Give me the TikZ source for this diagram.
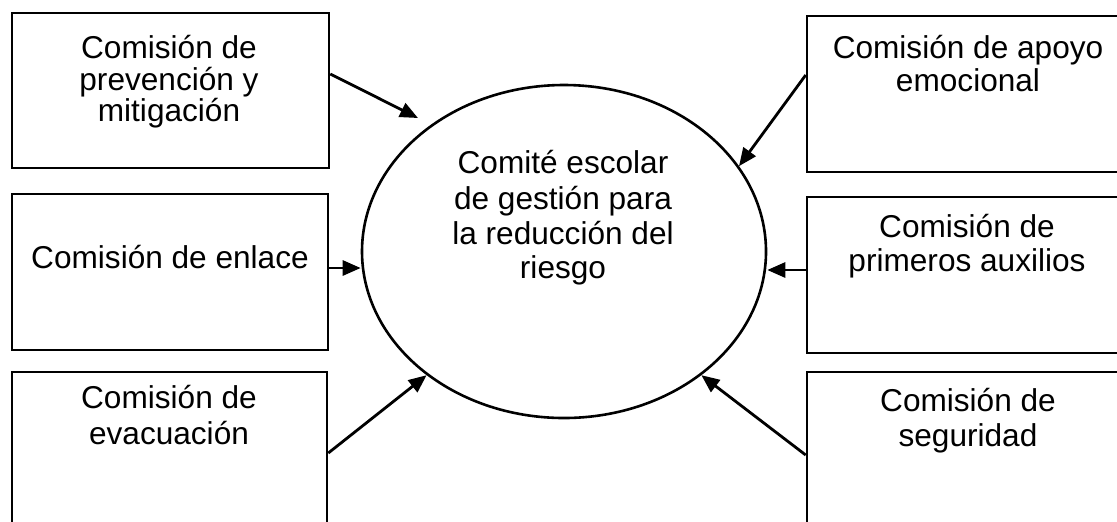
\documentclass[tikz,border=0pt]{standalone}
\usepackage{fontspec}
\setmainfont{Liberation Sans}
\usetikzlibrary{shapes.geometric,arrows.meta,fit}
\begin{document}
\begin{tikzpicture}[x=0.5pt,y=-0.5pt,
  box/.style={draw, line width=1.3pt, inner sep=0pt},
  txt/.style={anchor=base, inner sep=0pt, font=\fontsize{15.8pt}{18pt}\selectfont},
  arr/.style={line width=1.4pt, -{Triangle[length=9pt,width=7.5pt]}}]
\useasboundingbox (0,0) rectangle (1117,521);
% boxes
\node[box, fit={(12,13) (329,168)}] (b1) {};
\node[box, fit={(12,194) (328,350)}] (b2) {};
\node[box, fit={(12,372) (327,532)}] (b3) {};
\node[box, fit={(807,16) (1126,172)}] (b4) {};
\node[box, fit={(807,197) (1126,353)}] (b5) {};
\node[box, fit={(807,372) (1126,532)}] (b6) {};
% central ellipse
\node[draw, ellipse, line width=1.3pt, inner sep=0pt, minimum width=202pt, minimum height=166.5pt] (e) at (564,251.5) {};
% texts
\node[txt] (t1a) at (169,58) {Comisión de};
\node[txt] (t1b) at (169,90) {prevención y};
\node[txt] (t1c) at (169,121) {mitigación};
\node[txt] (t2a) at (170,268) {Comisión de enlace};
\node[txt] (t3a) at (169,408) {Comisión de};
\node[txt] (t3b) at (169,444) {evacuación};
\node[txt] (t4a) at (968,58) {Comisión de apoyo};
\node[txt] (t4b) at (968,91) {emocional};
\node[txt] (t5a) at (967,237) {Comisión de};
\node[txt] (t5b) at (967,271) {primeros auxilios};
\node[txt] (t6a) at (968,411) {Comisión de};
\node[txt] (t6b) at (968,446) {seguridad};
\node[txt] (ea) at (563,173) {Comité escolar};
\node[txt] (eb) at (563,209) {de gestión para};
\node[txt] (ec) at (563,244) {la reducción del};
\node[txt] (ed) at (563,278) {riesgo};
% arrows
\coordinate (tip1) at (418,118);
\draw[arr] (b1.east |- 0,74) -- (tip1);
\draw[arr] (b2.east |- 0,268) -- (e.west |- 0,268);
\draw[arr] (b3.east |- 0,453) -- (e.222.6);
\draw[arr] (b4.west |- 0,75) -- (e.26.2);
\draw[arr] (b5.west |- 0,270) -- (e.east |- 0,270);
\draw[arr] (b6.west |- 0,455) -- (e.318);
\end{tikzpicture}
\end{document}
